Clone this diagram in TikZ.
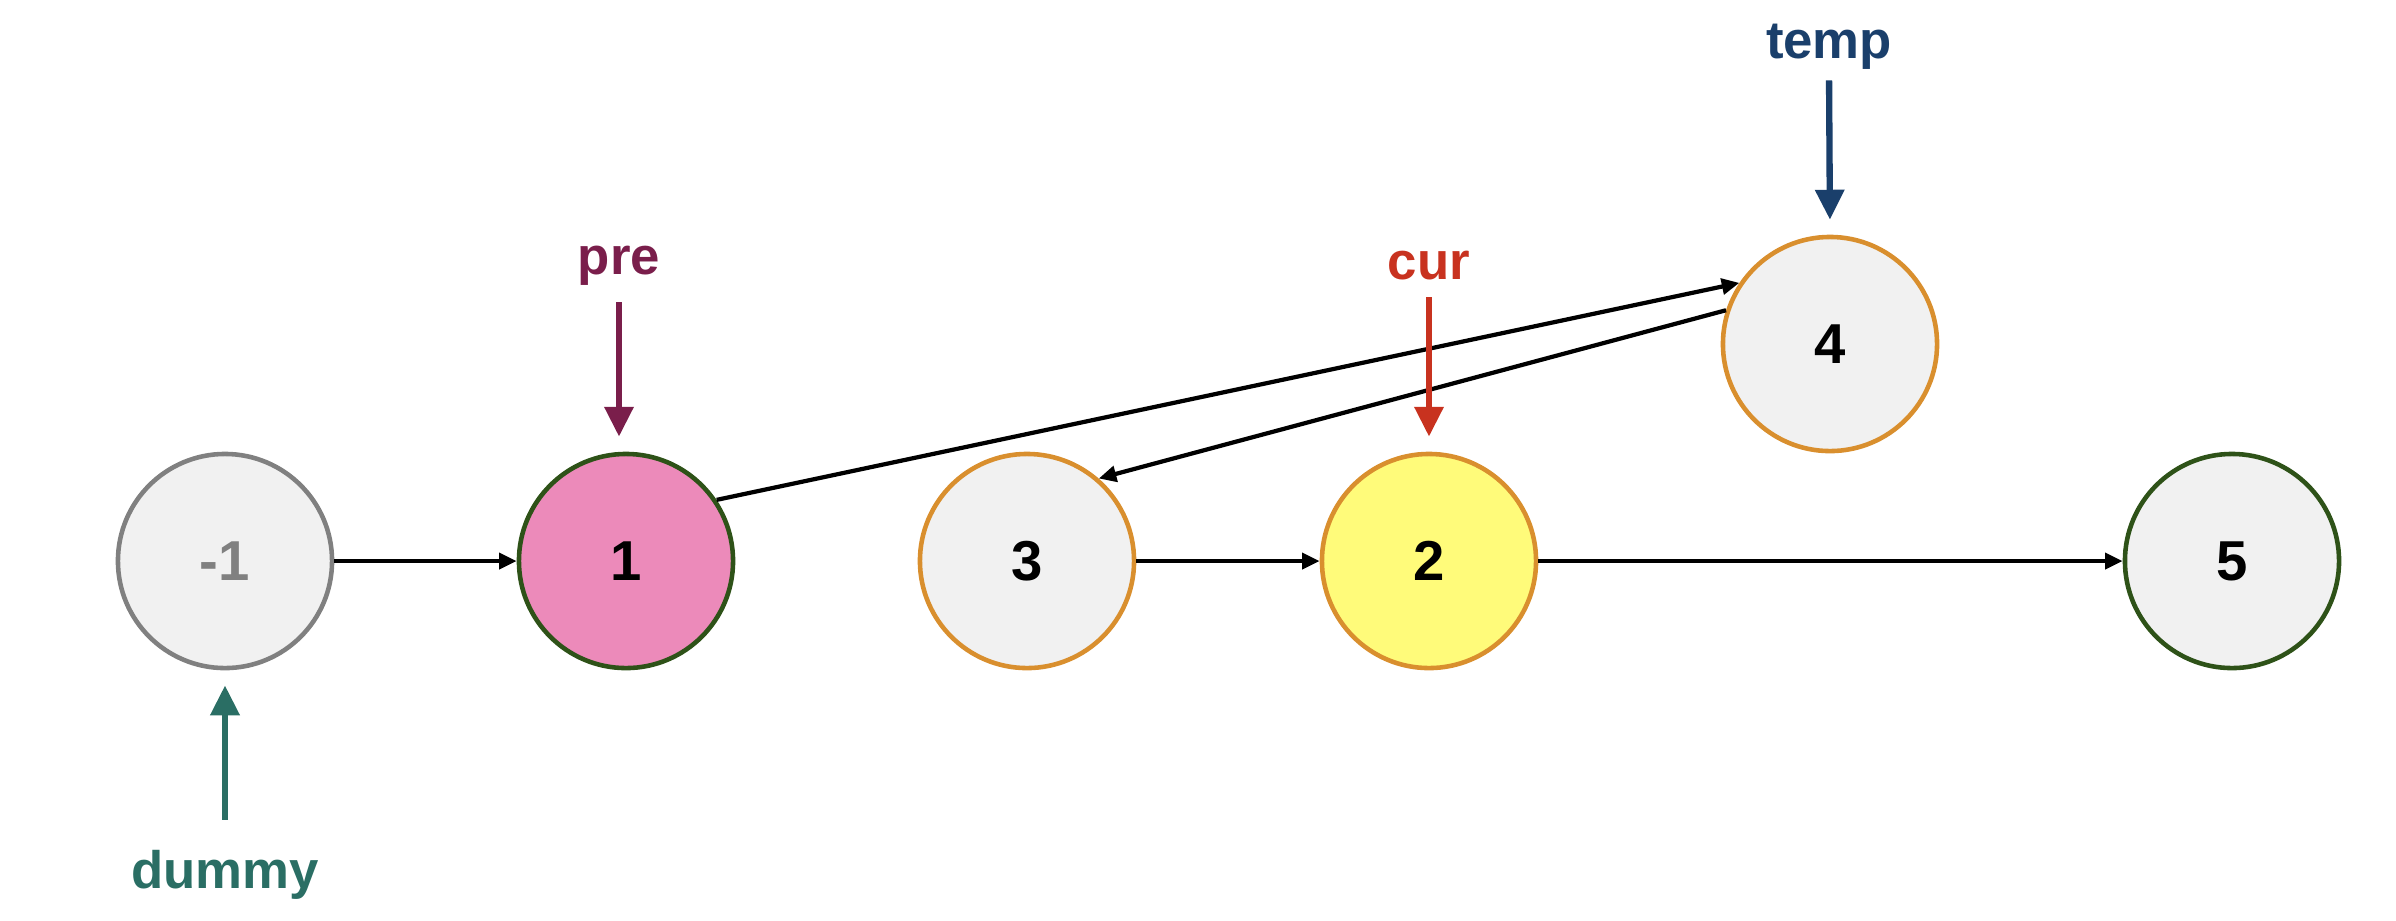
\documentclass[tikz,border=0pt]{standalone}
\usepackage{fontspec}
\setmainfont{Liberation Sans}
\usetikzlibrary{arrows.meta}
\definecolor{nodegray}{HTML}{F1F1F1}
\definecolor{edgegray}{HTML}{808080}
\definecolor{edgegreen}{HTML}{2E5218}
\definecolor{edgeorange}{HTML}{D98F2E}
\definecolor{pinkfill}{HTML}{EC8ABA}
\definecolor{yellowfill}{HTML}{FFFB7A}
\definecolor{precolor}{HTML}{7A1E4B}
\definecolor{curcolor}{HTML}{C8321F}
\definecolor{tempcolor}{HTML}{1A3F6B}
\definecolor{dummycolor}{HTML}{2A6E64}
\begin{document}
\begin{tikzpicture}[x=0.01cm, y=-0.01cm]
\tikzstyle{listnode}=[draw, circle, line width=1.3pt, minimum size=2.14cm, inner sep=0pt, fill=nodegray, font=\fontsize{16}{19}\selectfont\bfseries]
\tikzstyle{link}=[draw, line width=1.2pt, -{Triangle[width=4.5pt,length=5pt]}]
\tikzstyle{pointer}=[font=\fontsize{15}{18}\selectfont\bfseries, inner sep=0pt]
\tikzstyle{ptr}=[draw, line width=1.8pt, -{Triangle[width=8pt,length=8.5pt]}, shorten <=0.16cm, shorten >=0.15cm]

\useasboundingbox (0,0) rectangle (2396,920);

% List nodes
\node[listnode, draw=edgegray, text=edgegray] (nm1) at (225,561) {-1};
\node[listnode, draw=edgegreen, fill=pinkfill] (n1) at (626,561) {1};
\node[listnode, draw=edgeorange] (n3) at (1027,561) {3};
\node[listnode, draw=edgeorange, fill=yellowfill] (n2) at (1429,561) {2};
\node[listnode, draw=edgeorange] (n4) at (1830,344) {4};
\node[listnode, draw=edgegreen] (n5) at (2232,561) {5};

% Links
\draw[link] (nm1) -- (n1);
\draw[link] (n1.34) -- (n4.146);
\draw[link] (n4.162) -- (n3.49);
\draw[link] (n3) -- (n2);
\draw[link] (n2) -- (n5);

% Pointers
\node[pointer, text=precolor] (pre) at (619,266) {pre};
\node[pointer, text=curcolor] (cur) at (1429,266) {cur};
\node[pointer, text=tempcolor] (temp) at (1829,47) {temp};
\node[pointer, text=dummycolor] (dummy) at (225,875) {dummy};

\draw[ptr, precolor] (pre.south) -- (n1.north -| pre.south);
\draw[ptr, curcolor] (cur.south) -- (n2.north);
\draw[ptr, tempcolor, shorten <=0.1cm] (temp.south) -- (n4.north);
\draw[ptr, dummycolor, shorten <=0.3cm] (dummy.north) -- (nm1.south);
\end{tikzpicture}
\end{document}
